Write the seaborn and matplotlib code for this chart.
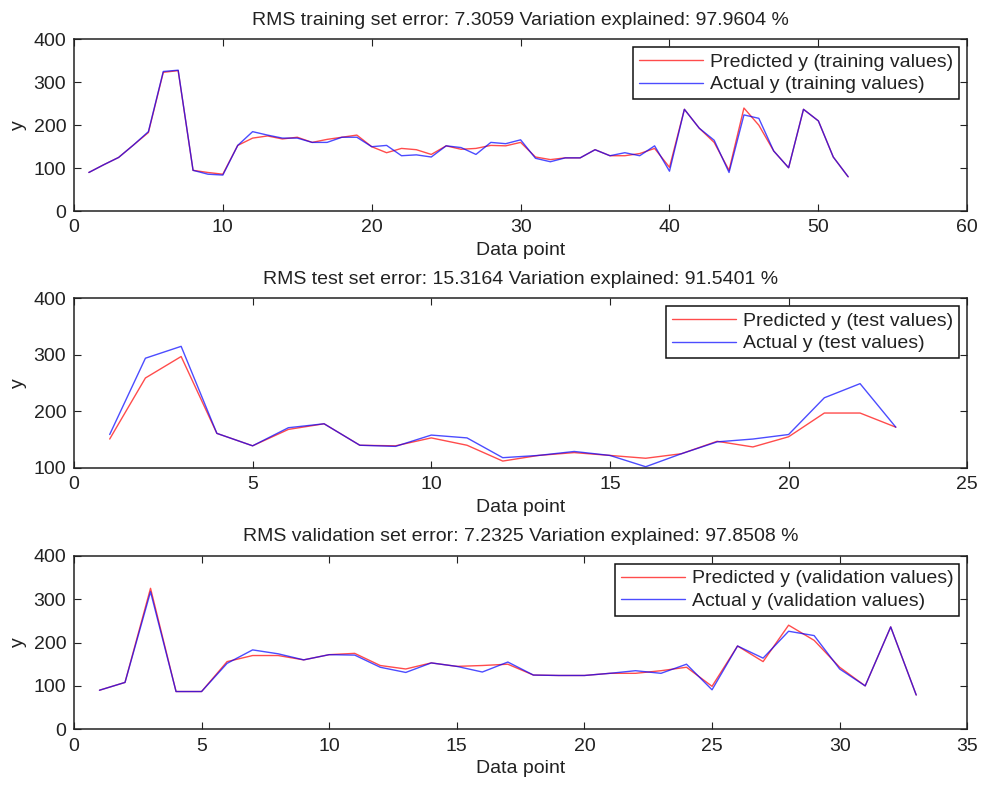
import numpy as np
import pandas as pd
import matplotlib
matplotlib.use("Agg")
import matplotlib.pyplot as plt
import seaborn as sns

# ---------------- data ----------------
train_pred = [90, 108, 125, 154, 183, 323, 327, 95, 90, 86, 153, 170, 175, 168, 172, 160, 167, 172, 177, 150,
              136, 146, 143, 132, 152, 144, 146, 153, 152, 160, 126, 120, 124, 124, 143, 129, 129, 134, 146, 102,
              237, 193, 160, 95, 240, 200, 140, 101, 237, 210, 126, 80]
train_act = [90, 108, 125, 154, 185, 325, 328, 95, 86, 84, 153, 185, 177, 170, 170, 160, 160, 172, 172, 150,
             153, 129, 131, 126, 152, 148, 132, 160, 157, 166, 123, 115, 124, 124, 143, 129, 136, 129, 152, 93,
             237, 193, 165, 90, 224, 216, 140, 101, 237, 210, 126, 80]
test_pred = [151, 259, 297, 161, 139, 168, 178, 140, 139, 153, 140, 112, 122, 127, 122, 117, 125, 147, 137,
             155, 197, 197, 172]
test_act = [159, 294, 315, 161, 139, 171, 178, 140, 138, 158, 153, 118, 122, 129, 122, 102, 125, 146, 151,
            159, 224, 249, 172]
val_pred = [90, 108, 325, 87, 87, 156, 170, 170, 160, 172, 175, 147, 139, 153, 145, 147, 150, 125, 124, 124,
            129, 129, 135, 143, 99, 192, 156, 240, 205, 143, 100, 236, 79]
val_act = [90, 108, 317, 87, 87, 152, 183, 174, 160, 172, 171, 143, 131, 153, 145, 132, 155, 125, 124, 124,
           129, 135, 129, 150, 91, 192, 164, 226, 216, 139, 100, 236, 79]

titles = ["RMS training set error: 7.3059 Variation explained: 97.9604 %",
          "RMS test set error: 15.3164 Variation explained: 91.5401 %",
          "RMS validation set error: 7.2325 Variation explained: 97.8508 %"]
set_names = ["training", "test", "validation"]
xlims = [(0, 60), (0, 25), (0, 35)]
xticks = [[0, 10, 20, 30, 40, 50, 60], [0, 5, 10, 15, 20, 25], [0, 5, 10, 15, 20, 25, 30, 35]]
ylims = [(0, 400), (100, 400), (0, 400)]
yticks = [[0, 100, 200, 300, 400], [100, 200, 300, 400], [0, 100, 200, 300, 400]]

# ---------------- style ----------------
sns.set_style("ticks")
plt.rcParams["font.family"] = ["Liberation Sans", "DejaVu Sans"]
plt.rcParams["xtick.direction"] = "in"
plt.rcParams["ytick.direction"] = "in"
plt.rcParams["xtick.top"] = True
plt.rcParams["ytick.right"] = True

FS = 14
fig = plt.figure(figsize=(9.86, 7.85), dpi=100)
boxes = [(0.075, 0.731, 0.906, 0.219), (0.075, 0.404, 0.906, 0.216), (0.075, 0.071, 0.906, 0.221)]

series = [(train_pred, train_act), (test_pred, test_act), (val_pred, val_act)]

for i, (pred, act) in enumerate(series):
    ax = fig.add_axes(boxes[i])
    n = len(pred)
    name = set_names[i]
    df = pd.DataFrame({
        "x": list(range(1, n + 1)) * 2,
        "y": list(pred) + list(act),
        "series": [f"Predicted y ({name} values)"] * n + [f"Actual y ({name} values)"] * n,
    })
    sns.lineplot(data=df, x="x", y="y", hue="series", palette=["#ff0000", "#0000ff"],
                 linewidth=1.0, ax=ax, sort=False, estimator=None)
    for ln in ax.get_lines():
        ln.set_alpha(0.7)
    ax.set_xlim(*xlims[i])
    ax.set_ylim(*ylims[i])
    ax.set_xticks(xticks[i])
    ax.set_yticks(yticks[i])
    ax.tick_params(labelsize=FS, length=5, width=0.8, colors="#222222")
    ax.tick_params(axis="x", pad=6)
    ax.tick_params(axis="y", pad=5.5)
    for sp in ax.spines.values():
        sp.set_linewidth(1.1)
        sp.set_color("#222222")
    ax.set_xlabel("Data point", fontsize=FS, labelpad=4, color="#222222")
    ax.set_ylabel("y", fontsize=FS, labelpad=5, color="#222222")
    ax.set_title(titles[i], fontsize=FS, pad=10.5, color="#222222")
    leg = ax.legend(loc="upper right", fontsize=FS, frameon=True, fancybox=False,
                    borderaxespad=0.42, handlelength=3.3, borderpad=0.3, labelspacing=0.25,
                    handletextpad=0.35)
    leg.get_frame().set_edgecolor("#111111")
    leg.get_frame().set_linewidth(1.1)
    leg.get_frame().set_alpha(1)
    for t in leg.get_texts():
        t.set_color("#222222")
    for h in leg.get_lines():
        h.set_linewidth(1.0)

fig.savefig("out.png", dpi=100)
